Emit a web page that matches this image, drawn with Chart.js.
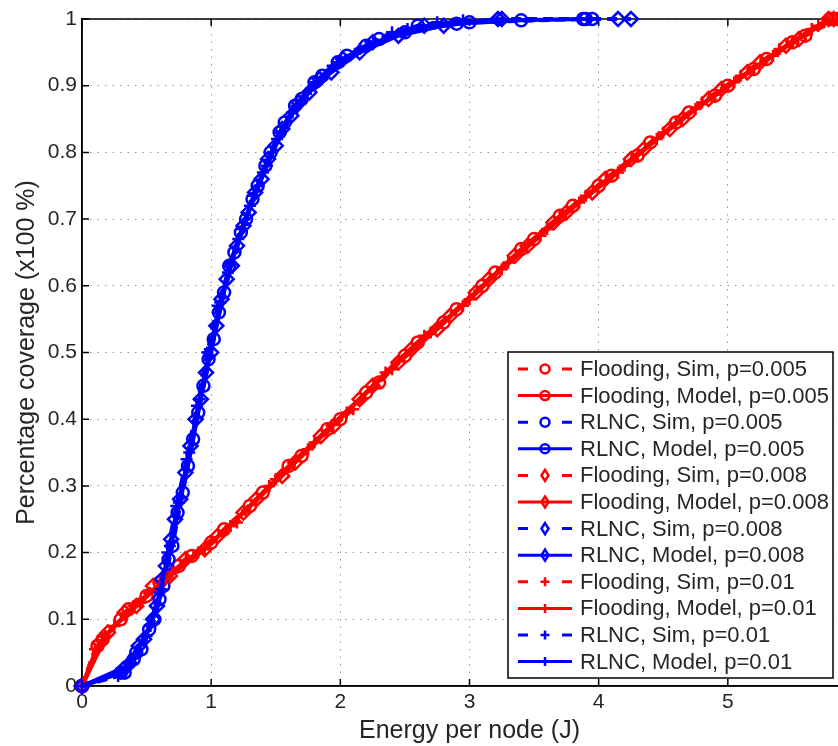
<!DOCTYPE html>
<html>
<head>
<meta charset="utf-8">
<script src="https://cdn.jsdelivr.net/npm/chart.js@4.4.1/dist/chart.umd.min.js"></script>
<style>
    html, body { margin: 0; padding: 0; background: #fff; overflow: hidden; }
    #wrap { width: 870px; height: 746px; }
</style>
</head>
<body>
<div id="wrap"><canvas id="coverageChart" width="870" height="746"></canvas></div>
<script>
// axis ticks
const xTicks = [0, 1, 2, 3, 4, 5, 6];
const yTicks = [0, 0.1, 0.2, 0.3, 0.4, 0.5, 0.6, 0.7, 0.8, 0.9, 1];

// Flooding (red)
const floodSimE005 = [0, 0.16, 0.36, 0.6, 0.85, 1.1, 1.4, 1.7, 2.0, 2.3, 2.6, 2.9, 3.2, 3.5, 3.8, 4.1, 4.4, 4.7, 5.0, 5.3, 5.6, 5.85];
const floodSimC005 = [0, 0.07, 0.115, 0.155, 0.195, 0.235, 0.29, 0.345, 0.4, 0.455, 0.515, 0.565, 0.62, 0.67, 0.72, 0.765, 0.815, 0.86, 0.9, 0.94, 0.975, 1.0];
const floodModE005 = [0, 0.12, 0.3, 0.5, 0.75, 1.0, 1.3, 1.6, 1.9, 2.2, 2.5, 2.8, 3.1, 3.4, 3.7, 4.0, 4.3, 4.6, 4.9, 5.2, 5.5, 5.8];
const floodModC005 = [0, 0.06, 0.1, 0.135, 0.18, 0.215, 0.27, 0.33, 0.385, 0.44, 0.495, 0.545, 0.6, 0.655, 0.705, 0.75, 0.795, 0.845, 0.885, 0.925, 0.965, 1.0];
const floodSimE008 = [0, 0.14, 0.33, 0.55, 0.8, 1.05, 1.35, 1.65, 1.95, 2.25, 2.55, 2.85, 3.15, 3.45, 3.75, 4.05, 4.35, 4.65, 4.95, 5.25, 5.55, 5.82];
const floodSimC008 = [0, 0.065, 0.11, 0.15, 0.19, 0.225, 0.28, 0.335, 0.39, 0.45, 0.505, 0.555, 0.61, 0.66, 0.71, 0.76, 0.805, 0.85, 0.895, 0.935, 0.97, 1.0];
const floodModE008 = [0, 0.2, 0.42, 0.68, 0.95, 1.25, 1.55, 1.85, 2.15, 2.45, 2.75, 3.05, 3.35, 3.65, 3.95, 4.25, 4.55, 4.85, 5.15, 5.45, 5.78];
const floodModC008 = [0, 0.08, 0.12, 0.165, 0.205, 0.26, 0.315, 0.375, 0.43, 0.485, 0.535, 0.59, 0.645, 0.695, 0.74, 0.79, 0.835, 0.88, 0.92, 0.96, 1.0];
const floodSimE01 = [0, 0.1, 0.25, 0.45, 0.7, 0.95, 1.2, 1.5, 1.8, 2.1, 2.4, 2.7, 3.0, 3.3, 3.6, 3.9, 4.2, 4.5, 4.8, 5.1, 5.4, 5.7];
const floodSimC01 = [0, 0.055, 0.09, 0.125, 0.17, 0.205, 0.245, 0.31, 0.365, 0.415, 0.475, 0.53, 0.58, 0.635, 0.685, 0.735, 0.78, 0.83, 0.875, 0.915, 0.955, 0.99];
const floodModE01 = [0, 0.18, 0.4, 0.65, 0.9, 1.15, 1.45, 1.75, 2.05, 2.35, 2.65, 2.95, 3.25, 3.55, 3.85, 4.15, 4.45, 4.75, 5.05, 5.35, 5.65, 5.85];
const floodModC01 = [0, 0.075, 0.12, 0.16, 0.2, 0.24, 0.3, 0.355, 0.41, 0.47, 0.525, 0.57, 0.625, 0.675, 0.725, 0.77, 0.82, 0.865, 0.905, 0.945, 0.985, 1.0];

// RLNC (blue)
const rlncSimE005 = [0, 0.33, 0.4, 0.46, 0.56, 0.63, 0.7, 0.78, 0.86, 0.94, 1.02, 1.1, 1.18, 1.27, 1.36, 1.46, 1.57, 1.7, 1.86, 2.05, 2.3, 2.6, 3.0, 3.9, 3.95];
const rlncSimC005 = [0, 0.02, 0.04, 0.055, 0.1, 0.15, 0.21, 0.29, 0.37, 0.45, 0.52, 0.59, 0.65, 0.7, 0.75, 0.8, 0.845, 0.88, 0.915, 0.945, 0.97, 0.99, 0.995, 1.0, 1.0];
const rlncModE005 = [0, 0.3, 0.42, 0.52, 0.6, 0.67, 0.74, 0.82, 0.9, 0.98, 1.06, 1.14, 1.23, 1.32, 1.42, 1.53, 1.65, 1.8, 1.98, 2.2, 2.5, 2.9, 3.4, 3.88];
const rlncModC005 = [0, 0.02, 0.05, 0.085, 0.13, 0.19, 0.26, 0.33, 0.41, 0.49, 0.56, 0.63, 0.68, 0.73, 0.78, 0.83, 0.87, 0.905, 0.935, 0.96, 0.98, 0.993, 0.998, 1.0];
const rlncSimE008 = [0, 0.32, 0.44, 0.55, 0.62, 0.69, 0.76, 0.84, 0.92, 1.0, 1.08, 1.16, 1.25, 1.34, 1.44, 1.55, 1.68, 1.84, 2.02, 2.25, 2.65, 3.25, 4.15, 4.25];
const rlncSimC008 = [0, 0.025, 0.06, 0.1, 0.16, 0.22, 0.28, 0.36, 0.43, 0.5, 0.58, 0.63, 0.69, 0.74, 0.79, 0.835, 0.875, 0.91, 0.94, 0.965, 0.99, 1.0, 1.0, 1.0];
const rlncModE008 = [0, 0.35, 0.48, 0.58, 0.65, 0.72, 0.8, 0.88, 0.96, 1.04, 1.12, 1.2, 1.29, 1.39, 1.5, 1.62, 1.76, 1.93, 2.15, 2.45, 2.8, 3.22];
const rlncModC008 = [0, 0.03, 0.07, 0.12, 0.18, 0.25, 0.32, 0.4, 0.47, 0.54, 0.61, 0.66, 0.71, 0.76, 0.81, 0.855, 0.89, 0.92, 0.95, 0.975, 0.99, 1.0];
const rlncSimE01 = [0, 0.28, 0.38, 0.5, 0.6, 0.66, 0.73, 0.81, 0.89, 0.97, 1.05, 1.13, 1.21, 1.3, 1.4, 1.51, 1.63, 1.77, 1.94, 2.15, 2.4, 2.75];
const rlncSimC01 = [0, 0.015, 0.035, 0.075, 0.14, 0.2, 0.27, 0.34, 0.42, 0.5, 0.57, 0.62, 0.67, 0.72, 0.77, 0.82, 0.86, 0.895, 0.93, 0.955, 0.98, 0.995];
const rlncModE01 = [0, 0.31, 0.41, 0.53, 0.61, 0.68, 0.75, 0.83, 0.91, 0.99, 1.07, 1.15, 1.24, 1.33, 1.43, 1.54, 1.66, 1.81, 1.99, 2.22, 2.52, 2.95];
const rlncModC01 = [0, 0.02, 0.045, 0.09, 0.145, 0.21, 0.275, 0.35, 0.43, 0.505, 0.575, 0.635, 0.685, 0.735, 0.78, 0.83, 0.87, 0.905, 0.935, 0.96, 0.985, 0.998];

const RED = '#ff0000';
const BLUE = '#0000ff';
const FONT = '"Liberation Sans", Arial, sans-serif';
const TEXT = '#262626';

function pts(xs, ys) {
    return xs.map((x, i) => ({ x: x, y: ys[i] }));
}

function series(label, xs, ys, color, marker, dashed) {
    return {
        label: label,
        data: pts(xs, ys),
        showLine: true,
        borderColor: color,
        borderWidth: 4,
        borderDash: dashed ? [10, 6] : [],
        pointStyle: marker,
        pointRadius: marker === 'rectRot' ? 7 : 6,
        pointBorderWidth: 2.5,
        pointBorderColor: color,
        pointBackgroundColor: 'rgba(0,0,0,0)',
        pointHoverRadius: 6,
        fill: false,
        tension: 0,
        clip: 10
    };
}

const datasets = [
    series('Flooding, Sim, p=0.005', floodSimE005, floodSimC005, RED, 'circle', true),
    series('Flooding, Model, p=0.005', floodModE005, floodModC005, RED, 'circle', false),
    series('RLNC, Sim, p=0.005', rlncSimE005, rlncSimC005, BLUE, 'circle', true),
    series('RLNC, Model, p=0.005', rlncModE005, rlncModC005, BLUE, 'circle', false),
    series('Flooding, Sim, p=0.008', floodSimE008, floodSimC008, RED, 'rectRot', true),
    series('Flooding, Model, p=0.008', floodModE008, floodModC008, RED, 'rectRot', false),
    series('RLNC, Sim, p=0.008', rlncSimE008, rlncSimC008, BLUE, 'rectRot', true),
    series('RLNC, Model, p=0.008', rlncModE008, rlncModC008, BLUE, 'rectRot', false),
    series('Flooding, Sim, p=0.01', floodSimE01, floodSimC01, RED, 'cross', true),
    series('Flooding, Model, p=0.01', floodModE01, floodModC01, RED, 'cross', false),
    series('RLNC, Sim, p=0.01', rlncSimE01, rlncSimC01, BLUE, 'cross', true),
    series('RLNC, Model, p=0.01', rlncModE01, rlncModC01, BLUE, 'cross', false)
];
// matlab draws later series on top
datasets.forEach((d, i) => { d.order = datasets.length - i; });

function drawMarker(ctx, style, x, y, r) {
    ctx.beginPath();
    if (style === 'circle') {
        ctx.arc(x, y, r, 0, Math.PI * 2);
    } else if (style === 'rectRot') {
        ctx.moveTo(x, y - r - 1);
        ctx.lineTo(x + r - 1, y);
        ctx.lineTo(x, y + r + 1);
        ctx.lineTo(x - r + 1, y);
        ctx.closePath();
    } else {
        ctx.moveTo(x - r, y); ctx.lineTo(x + r, y);
        ctx.moveTo(x, y - r); ctx.lineTo(x, y + r);
    }
    ctx.stroke();
}

// axes box + inward tick marks (matlab style)
const boxPlugin = {
    id: 'box',
    beforeDatasetsDraw(chart) {
        const { ctx, chartArea: a, scales } = chart;
        ctx.save();
        ctx.strokeStyle = '#000';
        ctx.lineWidth = 1.5;
        ctx.strokeRect(a.left, a.top, a.right - a.left, a.bottom - a.top);
        ctx.beginPath();
        xTicks.forEach(v => {
            const px = scales.x.getPixelForValue(v);
            ctx.moveTo(px, a.bottom); ctx.lineTo(px, a.bottom - 7);
            ctx.moveTo(px, a.top); ctx.lineTo(px, a.top + 7);
        });
        yTicks.forEach(v => {
            const py = scales.y.getPixelForValue(v);
            ctx.moveTo(a.left, py); ctx.lineTo(a.left + 7, py);
            ctx.moveTo(a.right, py); ctx.lineTo(a.right - 7, py);
        });
        ctx.stroke();
        ctx.restore();
    }
};

const legendPlugin = {
    id: 'boxLegend',
    afterDraw(chart) {
        const { ctx, chartArea: a } = chart;
        const w = 325, h = 326;
        const left = a.right - 24 - w;
        const top = a.bottom - 8 - h;
        const rowH = 26.6;
        ctx.save();
        ctx.fillStyle = '#fff';
        ctx.fillRect(left, top, w, h);
        ctx.strokeStyle = '#000';
        ctx.lineWidth = 1.5;
        ctx.strokeRect(left, top, w, h);
        ctx.font = '22px ' + FONT;
        ctx.textBaseline = 'middle';
        chart.data.datasets.forEach((d, i) => {
            const y = top + 17 + i * rowH;
            const x0 = left + 10, x1 = left + 64, xm = left + 37;
            ctx.strokeStyle = d.borderColor;
            ctx.lineWidth = 3;
            ctx.beginPath();
            if (d.borderDash.length) {
                ctx.moveTo(x0, y); ctx.lineTo(x0 + 10, y);
                ctx.moveTo(x1 - 10, y); ctx.lineTo(x1, y);
            } else {
                ctx.moveTo(x0, y); ctx.lineTo(x1, y);
            }
            ctx.stroke();
            ctx.lineWidth = 2.5;
            drawMarker(ctx, d.pointStyle, xm, y, 4.5);
            ctx.fillStyle = TEXT;
            ctx.fillText(d.label, left + 72, y + 1);
        });
        ctx.restore();
    }
};

const ctx = document.getElementById('coverageChart').getContext('2d');
const chart = new Chart(ctx, {
    type: 'scatter',
    data: { datasets: datasets },
    options: {
        responsive: false,
        animation: false,
        events: [],
        layout: {
            padding: { top: 19, right: 13, left: 12, bottom: 0 }
        },
        plugins: {
            legend: { display: false },
            tooltip: { enabled: false }
        },
        scales: {
            x: {
                type: 'linear',
                min: 0,
                max: 6,
                afterBuildTicks: (scale) => { scale.ticks = xTicks.map(v => ({ value: v })); },
                afterFit: (scale) => { scale.height = 60; },
                ticks: {
                    color: TEXT,
                    font: { family: FONT, size: 21 },
                    padding: 4,
                    maxRotation: 0,
                    callback: (v) => String(v)
                },
                grid: {
                    color: 'rgba(0,0,0,0.4)',
                    lineWidth: 1,
                    drawTicks: false
                },
                border: { display: true, color: '#000', width: 1.5, dash: [1.5, 6] },
                title: {
                    display: true,
                    text: 'Energy per node (J)',
                    color: TEXT,
                    font: { family: FONT, size: 25 },
                    padding: { top: 0, bottom: 0 }
                }
            },
            y: {
                type: 'linear',
                min: 0,
                max: 1,
                afterBuildTicks: (scale) => { scale.ticks = yTicks.map(v => ({ value: v })); },
                afterFit: (scale) => { scale.width = 70; },
                ticks: {
                    color: TEXT,
                    font: { family: FONT, size: 21 },
                    padding: 5,
                    callback: (v) => (v === 0 || v === 1) ? String(v) : v.toFixed(1)
                },
                grid: {
                    color: 'rgba(0,0,0,0.4)',
                    lineWidth: 1,
                    drawTicks: false
                },
                border: { display: true, color: '#000', width: 1.5, dash: [1.5, 6] },
                title: {
                    display: true,
                    text: 'Percentage coverage (x100 %)',
                    color: TEXT,
                    font: { family: FONT, size: 25 },
                    padding: { top: 0, bottom: 0 }
                }
            }
        }
    },
    plugins: [boxPlugin, legendPlugin]
});
</script>
</body>
</html>
